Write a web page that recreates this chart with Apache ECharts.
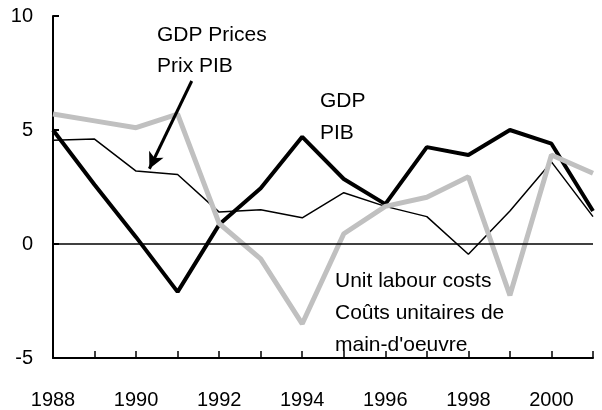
<!DOCTYPE html>
<html>
<head>
<meta charset="utf-8">
<script src="https://cdn.jsdelivr.net/npm/echarts@6/dist/echarts.min.js"></script>
<style>
  html, body { margin: 0; padding: 0; background: #fff; }
  #chart { width: 602px; height: 410px; }
</style>
</head>
<body>
<div id="chart"></div>
<script>
const years = [1988, 1989, 1990, 1991, 1992, 1993, 1994, 1995, 1996, 1997, 1998, 1999, 2000, 2001];
const gdp = [5.0, 2.6, 0.3, -2.1, 0.85, 2.45, 4.7, 2.85, 1.75, 4.25, 3.9, 5.0, 4.4, 1.45];
const gdpPrices = [4.55, 4.6, 3.2, 3.05, 1.4, 1.5, 1.15, 2.25, 1.65, 1.2, -0.45, 1.45, 3.6, 1.2];
const unitLabourCosts = [5.7, 5.4, 5.1, 5.7, 0.9, -0.65, -3.5, 0.45, 1.65, 2.05, 2.95, -2.25, 3.9, 3.1];
const yTicks = [-5, 0, 5, 10];

// arrow for the "GDP Prices" note, in data units
const arrowFrom = [1991.34, 7.15];
const arrowTo = [1990.32, 3.3];

const font = "'Liberation Sans', Arial, sans-serif";
const pairs = vals => years.map((y, i) => [y, vals[i]]);

const chart = echarts.init(document.getElementById('chart'));

chart.setOption({
  animation: false,
  backgroundColor: '#fff',
  grid: { left: 53, right: 9, top: 16, bottom: 50 },
  xAxis: {
    type: 'value',
    min: years[0],
    max: years[years.length - 1],
    interval: 1,
    axisLine: { onZero: false, lineStyle: { color: '#000', width: 2 } },
    axisTick: { inside: true, length: 7, lineStyle: { color: '#000', width: 1.5 } },
    axisLabel: {
      margin: 32,
      color: '#000',
      fontSize: 20,
      fontFamily: font,
      formatter: v => (v % 2 === 0 ? String(v) : '')
    },
    splitLine: { show: false }
  },
  yAxis: {
    type: 'value',
    min: yTicks[0],
    max: yTicks[yTicks.length - 1],
    interval: 5,
    axisLine: { show: true, lineStyle: { color: '#000', width: 2 } },
    axisTick: { show: true, inside: true, length: 6, lineStyle: { color: '#000', width: 2 } },
    axisLabel: { margin: 20, padding: [0, 0, 6, 0], color: '#000', fontSize: 20, fontFamily: font },
    splitLine: { show: false }
  },
  series: [
    {
      name: 'GDP Prices',
      type: 'line',
      data: pairs(gdpPrices),
      symbol: 'none',
      lineStyle: { color: '#000', width: 1.5 },
      markLine: {
        silent: true,
        symbol: 'none',
        label: { show: false },
        lineStyle: { color: '#000', width: 1.5, type: 'solid' },
        data: [{ yAxis: 0 }]
      }
    },
    {
      name: 'GDP',
      type: 'line',
      data: pairs(gdp),
      symbol: 'none',
      lineStyle: { color: '#000', width: 4 },
      markLine: {
        silent: true,
        symbol: ['none', 'arrow'],
        symbolSize: [12, 16],
        label: { show: false },
        lineStyle: { color: '#000', width: 3, type: 'solid' },
        data: [[{ coord: arrowFrom }, { coord: arrowTo }]]
      }
    },
    {
      name: 'Unit labour costs',
      type: 'line',
      data: pairs(unitLabourCosts),
      symbol: 'none',
      lineStyle: { color: '#c0c0c0', width: 5 }
    }
  ],
  graphic: [
    {
      type: 'text', left: 157, top: 20,
      style: { text: 'GDP Prices\nPrix PIB', fill: '#000', font: '21px ' + font, lineHeight: 31 }
    },
    {
      type: 'text', left: 320, top: 85,
      style: { text: 'GDP\nPIB', fill: '#000', font: '21px ' + font, lineHeight: 32 }
    },
    {
      type: 'text', left: 335, top: 265,
      style: { text: 'Unit labour costs\nCoûts unitaires de\nmain-d\'oeuvre', fill: '#000', font: '21px ' + font, lineHeight: 32 }
    }
  ]
});
</script>
</body>
</html>
